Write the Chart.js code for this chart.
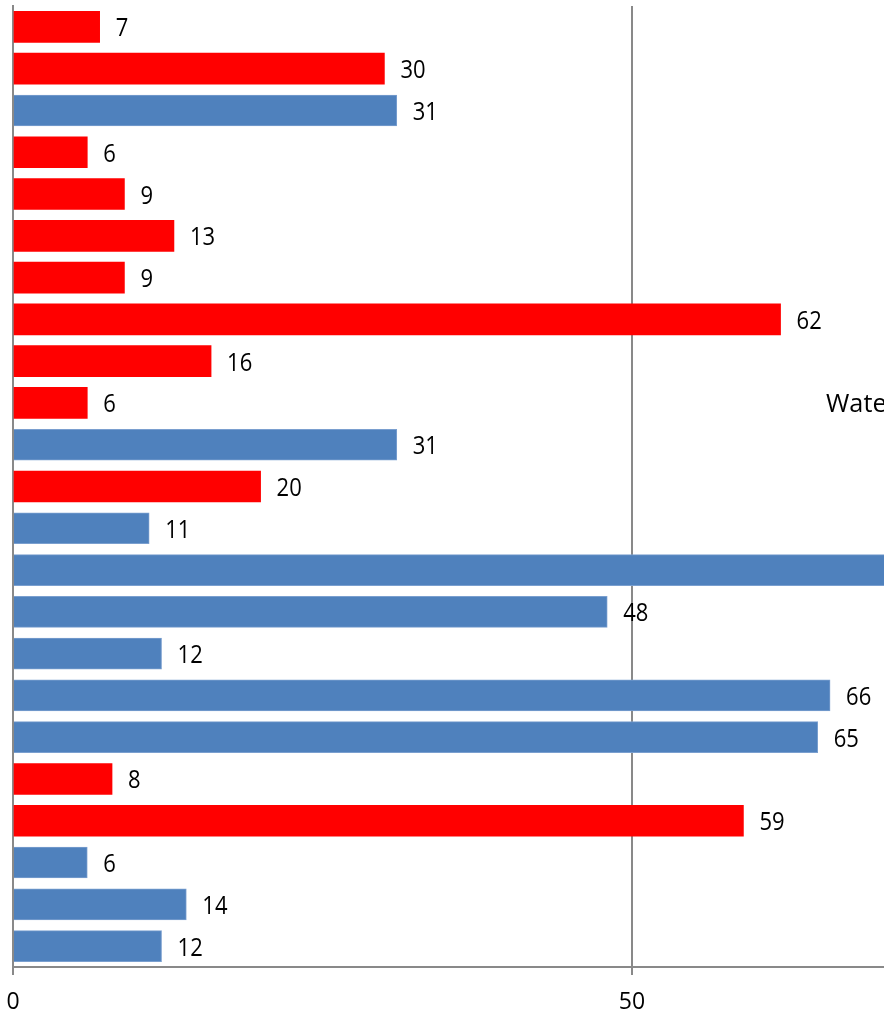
<!DOCTYPE html>
<html>
<head>
<meta charset="utf-8">
<script src="https://cdn.jsdelivr.net/npm/chart.js@4/dist/chart.umd.min.js"></script>
<style>
  html, body { margin: 0; padding: 0; background: #fff; overflow: hidden; }
  #wrap { width: 884px; height: 1010px; overflow: hidden; position: relative; }
  canvas { display: block; }
</style>
</head>
<body>
<div id="wrap"><canvas id="c" width="1010" height="1010"></canvas></div>
<script>
// ---- data ----
const categories = ['1','2','3','4','5','6','7','8','9','10','11','12','13','14','15','16','17','18','19','20','21','22','23'];
const redValues  = [7, 30, null, 6, 9, 13, 9, 62, 16, 6, null, 20, null, null, null, null, null, null, 8, 59, null, null, null];
const blueValues = [null, null, 31, null, null, null, null, null, null, null, 31, null, 11, 75, 48, 12, 66, 65, null, null, 6, 14, 12];
const xTicks = [0, 50];
const sideText = ['Water'];

const FONT = '"Open Sans", "Liberation Sans", sans-serif';

const dataLabels = {
  id: 'dataLabels',
  afterDatasetsDraw(chart) {
    const ctx = chart.ctx;
    const sy = 1.12;
    ctx.save();
    ctx.font = '22px ' + FONT;
    ctx.fillStyle = '#000';
    ctx.textAlign = 'left';
    ctx.textBaseline = 'middle';
    chart.data.datasets.forEach((ds, di) => {
      const meta = chart.getDatasetMeta(di);
      meta.data.forEach((bar, i) => {
        const v = ds.data[i];
        if (v === null || v === undefined) return;
        ctx.save();
        ctx.translate(bar.x + 16, bar.y + 2.5);
        ctx.scale(1, sy);
        ctx.fillText(String(v), 0, 0);
        ctx.restore();
      });
    });
    // cropped side text
    const y = chart.scales.y.getPixelForValue(9);
    ctx.save();
    ctx.font = '23px ' + FONT;
    ctx.translate(826, y + 2);
    ctx.scale(1.1, sy);
    ctx.fillText(sideText[0], 0, 0);
    ctx.restore();
    ctx.restore();
  }
};

new Chart(document.getElementById('c'), {
  type: 'bar',
  data: {
    labels: categories,
    datasets: [
      { label: 'Red', data: redValues, backgroundColor: '#FF0000', borderWidth: 0, grouped: false, barThickness: 31 },
      { label: 'Water', data: blueValues, backgroundColor: '#4F81BD', borderColor: '#7A9FCF', borderWidth: 1, grouped: false, barThickness: 31 }
    ]
  },
  options: {
    indexAxis: 'y',
    responsive: false,
    animation: false,
    events: [],
    layout: { padding: { left: 13, right: 6.6, top: 6, bottom: 0 } },
    plugins: { legend: { display: false }, tooltip: { enabled: false } },
    scales: {
      x: {
        min: 0, max: 80,
        afterBuildTicks(scale) { scale.ticks = xTicks.map(v => ({ value: v })); },
        afterFit(scale) { scale.height = 43; scale.paddingLeft = 0; scale.paddingRight = 0; },
        ticks: { font: { size: 23, family: FONT }, color: '#000', padding: 14 },
        grid: { color: '#898989', lineWidth: 2, tickLength: 8, drawTicks: true },
        border: { color: '#898989', width: 2 }
      },
      y: {
        ticks: { display: false },
        grid: { display: false },
        border: { color: '#898989', width: 2 },
        afterFit(scale) { scale.width = 0; }
      }
    }
  },
  plugins: [dataLabels]
});
</script>
</body>
</html>
